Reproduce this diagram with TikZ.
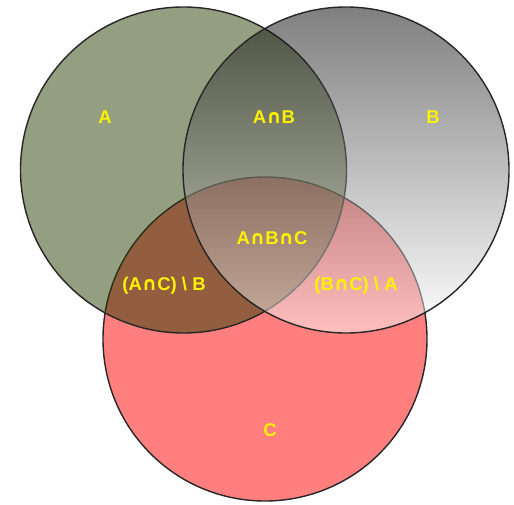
\documentclass[tikz,border=0pt]{standalone}
\usepackage{fontspec}
\setmainfont{Liberation Sans}
\newfontfamily\capfont{DejaVu Sans}
\newcommand{\icap}{{\capfont\fontsize{19}{20}\selectfont ∩}}
\begin{document}
\begin{tikzpicture}[x=1pt,y=-1pt,
  setcirc/.style={draw=black!85, line width=1.4pt, fill opacity=0.5},
  lbl/.style={text=yellow, font=\fontsize{18.5}{20}\selectfont\bfseries, inner sep=0pt}]
\useasboundingbox (0,0) rectangle (514,505);
\definecolor{acol}{RGB}{41,61,1}
\definecolor{ccol}{RGB}{255,0,0}
% C first, then A, then B
\path[setcirc, fill=ccol] (265,339) circle (162);
\path[setcirc, fill=acol] (183.5,170) circle (163);
\path[setcirc, top color=black, bottom color=white] (346,170) circle (163);
\node[lbl] (lA) at (105,117) {A};
\node[lbl] (lAB) at (274,117) {A\icap B};
\node[lbl] (lB) at (433,117) {B};
\node[lbl] (lABC) at (272,238) {A\icap B\icap C};
\node[lbl] (lACB) at (164,286) {(A\icap C) \textbackslash{} B};
\node[lbl] (lBCA) at (356,286) {(B\icap C) \textbackslash{} A};
\node[lbl] (lC) at (270,430) {C};
\end{tikzpicture}
\end{document}
